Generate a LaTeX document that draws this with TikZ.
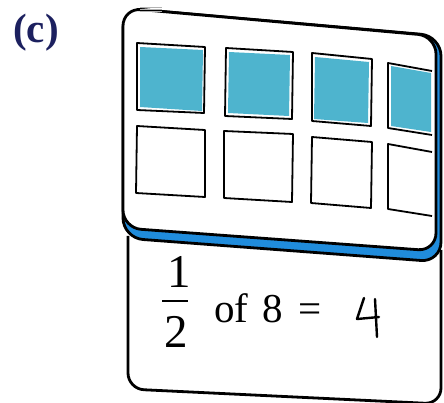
\documentclass[tikz,border=0pt]{standalone}
\usepackage{fontspec}
\newfontfamily\labelfont{Liberation Serif}
\newfontfamily\textserif{Liberation Serif}
\definecolor{navy}{RGB}{28,32,95}
\definecolor{bandblue}{RGB}{32,140,220}
\definecolor{paint}{RGB}{78,180,206}
\tikzset{
  outline/.style={line width=2.8pt, line join=round},
  cell/.style={line width=1.8pt, line join=round},
  paintfill/.style={fill=paint, draw=none},
  bigtext/.style={inner sep=0pt, font=\textserif\fontsize{41}{48}\selectfont},
  fractext/.style={inner sep=0pt, font=\textserif\fontsize{47}{54}\selectfont},
  hand/.style={line width=2.4pt, line cap=round, line join=round}
}
\begin{document}
\begin{tikzpicture}[x=1pt,y=-1pt]
\useasboundingbox (0,0) rectangle (444,403);
\fill[white] (0,0) rectangle (444,403);

% label
\node[inner sep=0pt, text=navy, font=\labelfont\bfseries\fontsize{41}{46}\selectfont] (lbl) at (36,33) {(c)};

% lower card
\draw[outline, fill=white, rounded corners=16pt] (128,236) -- (128,389) -- (441,404) -- (441,250);

% blue back edge of upper card
\draw[outline, fill=bandblue, rounded corners=20pt] (123,8) -- (441,36) -- (441,262) -- (123,238) -- cycle;
% upper card
\draw[outline, fill=white, rounded corners=18pt] (123,8) -- (436,36) -- (436,251) -- (123,228) -- cycle;

% scanner mark
\foreach \yy in {7.5,9.5,11.5} \draw[gray!60, line width=0.8pt] (140,\yy) -- (162,\yy);

% painted fills (top row)
\fill[paintfill] (140,47) -- (203,50) -- (202,111) -- (140,107) -- cycle;
\fill[paintfill] (229,52) -- (290,55) -- (289,116) -- (228,113) -- cycle;
\fill[paintfill] (315,57) -- (369,62) -- (368,123) -- (314,119) -- cycle;
\fill[paintfill] (391,66) -- (431,73) -- (431,132) -- (391,126) -- cycle;

% top row cells
\draw[cell] (137,43) -- (205,47) -- (204,113) -- (137,110) -- cycle;
\draw[cell] (226,48) -- (293,52) -- (292,119) -- (225,116) -- cycle;
\draw[cell] (312,53) -- (372,59) -- (371,126) -- (312,121) -- cycle;
\draw[cell] (432,71) -- (388,63) -- (388,128) -- (432,135);

% bottom row cells
\draw[cell] (137,126) -- (205,130) -- (205,197) -- (136,193) -- cycle;
\draw[cell] (224,131) -- (293,134) -- (292,202) -- (224,198) -- cycle;
\draw[cell] (312,137) -- (372,142) -- (371,208) -- (311,203) -- cycle;
\draw[cell] (432,152) -- (388,144) -- (388,209) -- (432,216);

% fraction
\node[fractext, anchor=base] (num) at (179,287) {1};
\node[fractext, anchor=base] (den) at (176,347) {2};
\coordinate (barL) at (162,301);
\coordinate (barR) at (188,301);
\draw[line width=2pt] (barL) -- (barR);

% text
\node[bigtext, anchor=base west] (of) at (214,322) {of};
\node[bigtext, anchor=base west] (eight) at (262,322) {8};
\node[bigtext, anchor=base west] (eq) at (298,322) {=};

% handwritten 4
\coordinate (f1) at (364,298);
\coordinate (f2) at (357,319);
\coordinate (f3) at (379,317);
\coordinate (f4) at (375,299);
\coordinate (f5) at (377,337);
\draw[hand] (f1) -- (f2) -- (f3);
\draw[hand] (f4) -- (f5);
\end{tikzpicture}
\end{document}
